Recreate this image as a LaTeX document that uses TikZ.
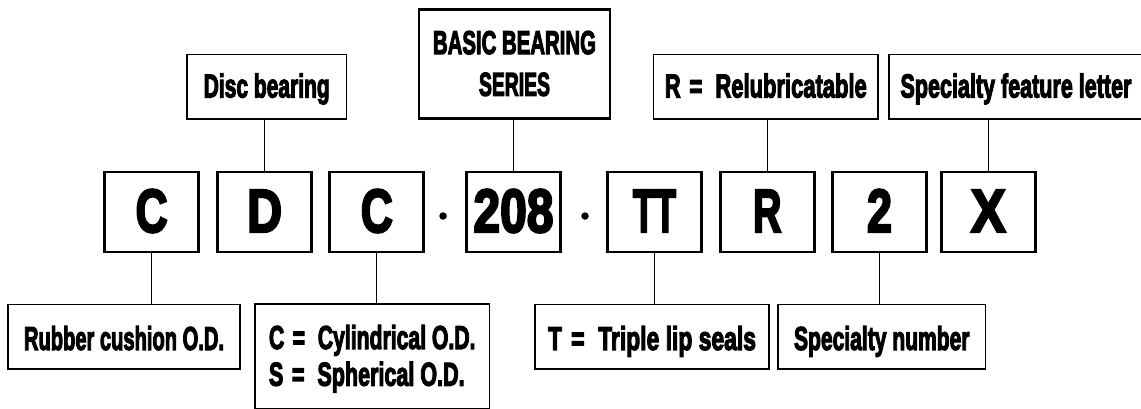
\documentclass[tikz,border=0pt]{standalone}
\usepackage{fontspec}
\newfontfamily\hv{Liberation Sans}[UprightFont={* Bold},FakeBold=4]
\usepackage{graphicx}
\newcommand\fw[2]{\resizebox{#1pt}{\height}{#2}}
\newcommand\eqs[2]{#1\hspace{0.4em}=\hspace{0.6em}#2}
\begin{document}
\begin{tikzpicture}[x=1pt,y=-1pt,
  lbl/.style={draw=black, line width=1.5pt, inner sep=0pt,
    font=\hv\fontsize{33}{36.7}\selectfont,
    text height=21.8pt, text depth=0pt},
  lblbot/.style={lbl, text height=26.8pt},
  big/.style={draw=black, line width=2.7pt, minimum width=94pt, minimum height=80pt,
    inner sep=0pt, font=\hv\fontsize{61}{62}\selectfont,
    text height=40pt, text depth=0pt},
  conn/.style={line width=1.2pt},
  dot/.style={circle, fill=black, inner sep=0pt, minimum size=7.5pt}]
\fill[white] (0,0) rectangle (1141,408);
\useasboundingbox (0,0) rectangle (1141,408);
% code letters
\node[big] (c1)   at (151.6,212) {\fw{32}{C}};
\node[big] (d)    at (264.6,212) {\fw{35}{D}};
\node[big] (c2)   at (376.8,212) {\fw{32}{C}};
\node[big] (n208) at (513.5,212) {\fw{80}{208}};
\node[big] (tt)   at (654.5,212) {\fw{43}{TT}};
\node[big] (r)    at (767.2,212) {\fw{28.5}{R}};
\node[big] (n2)   at (879.5,212) {\fw{25}{2}};
\node[big] (x)    at (988.3,212) {\fw{35}{X}};
\node[dot] (dot1) at (443,216) {};
\node[dot] (dot2) at (585,216) {};
% top labels
\node[lbl, minimum width=159.5pt, minimum height=64.5pt] (disc) at (266.75,86.5) {\fw{126}{Disc bearing}};
\node[lbl, line width=2.7pt, minimum width=191pt, minimum height=109.4pt, text depth=41.7pt] (basic) at (514.5,64)
  {\vtop{\baselineskip=41.7pt\lineskiplimit=-100pt\hbox{\fw{163}{BASIC BEARING}}\hbox to 163pt{\hfil\fw{71}{SERIES}\hfil}}};
\node[lbl, minimum width=224.4pt, minimum height=64.5pt] (rel) at (765.8,86.5) {\fw{202}{\eqs{R}{Relubricatable}}};
\node[lbl, minimum width=254pt, minimum height=64.5pt] (sfl) at (1016,86.5) {\fw{231}{Specialty feature letter}};
% bottom labels
\node[lblbot, minimum width=232pt, minimum height=64.5pt] (rub) at (124,336.5) {\fw{200}{Rubber cushion O.D.}};
\node[lbl, minimum width=234.5pt, minimum height=104.8pt, text depth=36.7pt] (cyl) at (372.25,356.4)
  {\vtop{\baselineskip=36.7pt\lineskiplimit=-100pt\hbox{\fw{206.5}{\eqs{C}{Cylindrical O.D.}}}\hbox{\fw{195.6}{\eqs{S}{Spherical O.D.}}}}};
\node[lblbot, minimum width=234pt, minimum height=64.5pt] (tls) at (652,336.5) {\fw{208}{\eqs{T}{Triple lip seals}}};
\node[lblbot, minimum width=207.6pt, minimum height=64.5pt] (snum) at (881.8,336.5) {\fw{175.5}{Specialty number}};
% connectors
\draw[conn] (d.north) -- (d.north |- disc.south);
\draw[conn] (n208.north) -- (n208.north |- basic.south);
\draw[conn] (r.north) -- (r.north |- rel.south);
\draw[conn] (x.north) -- (x.north |- sfl.south);
\draw[conn] (c1.south) -- (c1.south |- rub.north);
\draw[conn] (c2.south) -- (c2.south |- cyl.north);
\draw[conn] (tt.south) -- (tt.south |- tls.north);
\draw[conn] (n2.south) -- (n2.south |- snum.north);
\end{tikzpicture}
\end{document}
